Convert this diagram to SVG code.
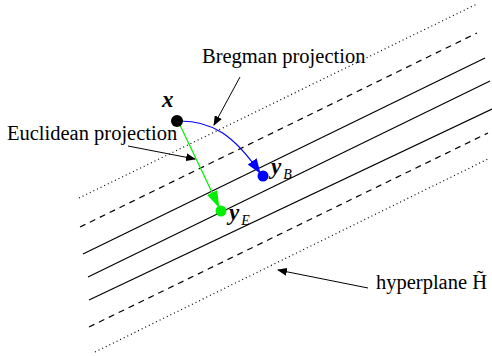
<svg xmlns="http://www.w3.org/2000/svg" width="492" height="356" viewBox="0 0 492 356">
<style>
.ln{stroke:#000;stroke-width:1.2;fill:none}
.dot{stroke-dasharray:1,3}
.dash{stroke-dasharray:6,5}
.lbl{font-family:"Liberation Serif",serif;font-size:20.5px;fill:#000}
.m{font-family:"Liberation Serif",serif;font-weight:bold;font-style:italic;font-size:23px;fill:#000}
.s{font-family:"Liberation Serif",serif;font-weight:normal;font-style:italic;font-size:14px;fill:#000}
.lead{stroke:#000;stroke-width:1;fill:none}
</style>
<defs>
<marker id="ak" markerWidth="10" markerHeight="8" refX="9" refY="4" orient="auto" markerUnits="userSpaceOnUse">
<path d="M0,0 L10,4 L0,8 Z" fill="#000"/>
</marker>
<marker id="ab" markerWidth="15" markerHeight="11" refX="14" refY="5.5" orient="auto" markerUnits="userSpaceOnUse">
<path d="M0,0 L15,5.5 L0,11 Z" fill="#0000ff"/>
</marker>
<marker id="ag" markerWidth="17" markerHeight="11" refX="16" refY="5.5" orient="auto" markerUnits="userSpaceOnUse">
<path d="M0,0 L17,5.5 L0,11 Z" fill="#00ee00"/>
</marker>
</defs>
<g id="hyperplanes">
<line class="ln dot" x1="79" y1="198" x2="477" y2="4"/>
<line class="ln dash" x1="80" y1="227" x2="477" y2="33"/>
<line class="ln" x1="83" y1="254" x2="485" y2="58"/>
<line class="ln" x1="88" y1="277" x2="490" y2="81"/>
<line class="ln" x1="89" y1="300" x2="492" y2="109"/>
<line class="ln dash" x1="89" y1="327" x2="488" y2="133"/>
<line class="ln dot" x1="95" y1="352" x2="490" y2="158"/>
</g>
<g id="connectors">
<path d="M180,121 C212,121 234,135 260,173" stroke="#0000ff" stroke-width="1.2" fill="none" marker-end="url(#ab)"/>
<line x1="179" y1="123" x2="219" y2="207" stroke="#00ee00" stroke-width="1.2" marker-end="url(#ag)"/>
<line class="lead" x1="240" y1="77" x2="214" y2="125" marker-end="url(#ak)"/>
<line class="lead" x1="128" y1="146" x2="195" y2="159" marker-end="url(#ak)"/>
<line class="lead" x1="368" y1="288" x2="278" y2="270" marker-end="url(#ak)"/>
</g>
<g id="node-x">
<circle cx="177" cy="121" r="6" fill="#000"/>
<text class="m" x="162" y="107">x</text>
</g>
<g id="node-yB">
<circle cx="263" cy="176" r="5.5" fill="#0000ff"/>
<text class="m" x="271" y="174">y<tspan class="s" dx="2" dy="5">B</tspan></text>
</g>
<g id="node-yE">
<circle cx="221" cy="211" r="5.5" fill="#00ee00"/>
<text class="m" x="229" y="220">y<tspan class="s" dx="2" dy="5">E</tspan></text>
</g>
<g id="labels">
<text class="lbl" x="202" y="63">Bregman projection</text>
<text class="lbl" x="7" y="140">Euclidean projection</text>
<text class="lbl" x="376" y="289">hyperplane H̃</text>
</g>
</svg>
